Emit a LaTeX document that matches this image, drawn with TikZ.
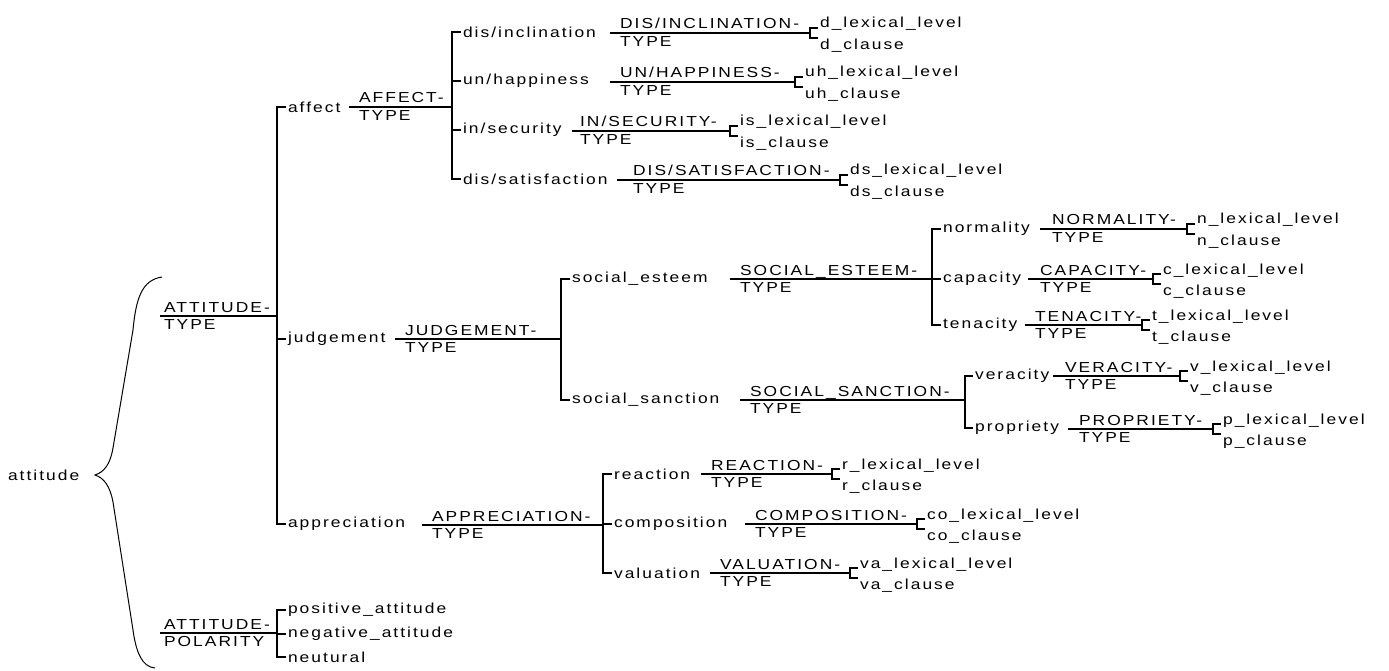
\documentclass[tikz,border=0pt]{standalone}
\usepackage{fontspec}
\setmainfont{Liberation Sans}[LetterSpace=14,FakeStretch=1.2]
\usetikzlibrary{positioning}

\begin{document}
\begin{tikzpicture}
    [x=1pt,y=-1pt,line width=1.1pt,
     every node/.style={inner xsep=1.5pt,inner ysep=0pt,font=\fontsize{14.5}{17}\selectfont},
     feat/.style={anchor=west},
     sysup/.style={anchor=base west},
     syslo/.style={anchor=north west},
     leafup/.style={anchor=base west},
     leaflo/.style={anchor=north west}]
  \useasboundingbox (0,0) rectangle (1389,671);

  % root and its brace
  \node[feat] (root) at (6,475) {attitude};
  \coordinate (brT) at (162,277);
  \coordinate (brM) at (95,475);
  \coordinate (brB) at (155,668);
  \draw[line width=1pt] (brT) .. controls (142,280) and (136,298) .. (133,330)
    -- (113,448) .. controls (110,465) and (104,472) .. (brM)
    .. controls (104,478) and (110,486) .. (113,502)
    -- (133,630) .. controls (136,652) and (142,667) .. (brB);

  % top systems
  \coordinate (att-l) at (160,316); \coordinate (att-b) at (277,316);
  \coordinate (pol-l) at (160,633); \coordinate (pol-b) at (277,633);
  \node[feat] (aff) at (286,107) {affect};
  \node[feat] (jud) at (286,339) {judgement};
  \node[feat] (app) at (286,524) {appreciation};
  \node[feat] (pos) at (286,610) {positive\_attitude};
  \node[feat] (neg) at (286,634) {negative\_attitude};
  \node[feat] (neu) at (286,657) {neutural};

  % second level
  \coordinate (aff-l) at (349,107); \coordinate (aff-b) at (452,107);
  \coordinate (jud-l) at (395,339); \coordinate (jud-b) at (561,339);
  \coordinate (app-l) at (422,525); \coordinate (app-b) at (603,525);
  \node[feat] (dis) at (461,32) {dis/inclination};
  \node[feat] (unh) at (461,81) {un/happiness};
  \node[feat] (ins) at (461,130) {in/security};
  \node[feat] (sat) at (461,179) {dis/satisfaction};
  \node[feat] (se) at (570,279) {social\_esteem};
  \node[feat] (ss) at (570,400) {social\_sanction};
  \node[feat] (rea) at (612,474) {reaction};
  \node[feat] (com) at (612,524) {composition};
  \node[feat] (val) at (612,573) {valuation};

  % third level
  \coordinate (se-l) at (730,279); \coordinate (se-b) at (932,279);
  \coordinate (ss-l) at (740,400); \coordinate (ss-b) at (965,400);
  \node[feat] (nor) at (941,229) {normality};
  \node[feat] (cap) at (941,279) {capacity};
  \node[feat] (ten) at (941,325) {tenacity};
  \node[feat] (ver) at (973,376) {veracity};
  \node[feat] (pro) at (973,428) {propriety};

  % systems ending in lexical level / clause
  \foreach \s/\xl/\xb/\yl/\p in {dis/610/810/33/d, unh/610/795/82/uh, ins/572/730/131/is,
      sat/617/840/180/ds, nor/1040/1187/229/n, cap/1028/1153/279/c, ten/1025/1142/325/t,
      ver/1053/1180/376/v, pro/1068/1213/429/p, rea/701/832/474/r, com/745/917/524/co,
      val/710/850/573/va} {
    \coordinate (\s-l) at (\xl,\yl);
    \coordinate (\s-b) at (\xb,\yl);
    \node[leafup] (\s-1) at (\xb+8,\yl-5) {\p\_lexical\_level};
    \node[leaflo] (\s-2) at (\xb+8,\yl+5) {\p\_clause};
    \draw (\s-1.base west) -| (\s-b) |- (\s-2.north west);
  }

  % system names
  \node[sysup] (att-u) at ([xshift=2pt,yshift=4pt]att-l) {ATTITUDE-};
  \node[syslo] (att-t) at ([xshift=2pt,yshift=-3pt]att-l) {TYPE};
  \node[sysup] (pol-u) at ([xshift=2pt,yshift=4pt]pol-l) {ATTITUDE-};
  \node[syslo] (pol-t) at ([xshift=2pt,yshift=-3pt]pol-l) {POLARITY};
  \node[sysup] (aff-u) at ([xshift=8pt,yshift=4pt]aff-l) {AFFECT-};
  \node[syslo] (aff-t) at ([xshift=8pt,yshift=-3pt]aff-l) {TYPE};
  \node[sysup] (jud-u) at ([xshift=8pt,yshift=4pt]jud-l) {JUDGEMENT-};
  \node[syslo] (jud-t) at ([xshift=8pt,yshift=-3pt]jud-l) {TYPE};
  \node[sysup] (app-u) at ([xshift=8pt,yshift=4pt]app-l) {APPRECIATION-};
  \node[syslo] (app-t) at ([xshift=8pt,yshift=-3pt]app-l) {TYPE};
  \node[sysup] (se-u) at ([xshift=8pt,yshift=4pt]se-l) {SOCIAL\_ESTEEM-};
  \node[syslo] (se-t) at ([xshift=8pt,yshift=-3pt]se-l) {TYPE};
  \node[sysup] (ss-u) at ([xshift=8pt,yshift=4pt]ss-l) {SOCIAL\_SANCTION-};
  \node[syslo] (ss-t) at ([xshift=8pt,yshift=-3pt]ss-l) {TYPE};
  \node[sysup] (dis-u) at ([xshift=8pt,yshift=4pt]dis-l) {DIS/INCLINATION-};
  \node[syslo] (dis-t) at ([xshift=8pt,yshift=-3pt]dis-l) {TYPE};
  \node[sysup] (unh-u) at ([xshift=8pt,yshift=4pt]unh-l) {UN/HAPPINESS-};
  \node[syslo] (unh-t) at ([xshift=8pt,yshift=-3pt]unh-l) {TYPE};
  \node[sysup] (ins-u) at ([xshift=6pt,yshift=4pt]ins-l) {IN/SECURITY-};
  \node[syslo] (ins-t) at ([xshift=6pt,yshift=-3pt]ins-l) {TYPE};
  \node[sysup] (sat-u) at ([xshift=14pt,yshift=4pt]sat-l) {DIS/SATISFACTION-};
  \node[syslo] (sat-t) at ([xshift=14pt,yshift=-3pt]sat-l) {TYPE};
  \node[sysup] (nor-u) at ([xshift=10pt,yshift=4pt]nor-l) {NORMALITY-};
  \node[syslo] (nor-t) at ([xshift=10pt,yshift=-3pt]nor-l) {TYPE};
  \node[sysup] (cap-u) at ([xshift=10pt,yshift=4pt]cap-l) {CAPACITY-};
  \node[syslo] (cap-t) at ([xshift=10pt,yshift=-3pt]cap-l) {TYPE};
  \node[sysup] (ten-u) at ([xshift=8pt,yshift=4pt]ten-l) {TENACITY-};
  \node[syslo] (ten-t) at ([xshift=8pt,yshift=-3pt]ten-l) {TYPE};
  \node[sysup] (ver-u) at ([xshift=10pt,yshift=4pt]ver-l) {VERACITY-};
  \node[syslo] (ver-t) at ([xshift=10pt,yshift=-3pt]ver-l) {TYPE};
  \node[sysup] (pro-u) at ([xshift=9pt,yshift=4pt]pro-l) {PROPRIETY-};
  \node[syslo] (pro-t) at ([xshift=9pt,yshift=-3pt]pro-l) {TYPE};
  \node[sysup] (rea-u) at ([xshift=8pt,yshift=4pt]rea-l) {REACTION-};
  \node[syslo] (rea-t) at ([xshift=8pt,yshift=-3pt]rea-l) {TYPE};
  \node[sysup] (com-u) at ([xshift=8pt,yshift=4pt]com-l) {COMPOSITION-};
  \node[syslo] (com-t) at ([xshift=8pt,yshift=-3pt]com-l) {TYPE};
  \node[sysup] (val-u) at ([xshift=8pt,yshift=4pt]val-l) {VALUATION-};
  \node[syslo] (val-t) at ([xshift=8pt,yshift=-3pt]val-l) {TYPE};

  % system lines and brackets
  \foreach \s in {att,pol,aff,jud,app,se,ss,dis,unh,ins,sat,nor,cap,ten,ver,pro,rea,com,val}
    \draw (\s-l) -- (\s-b);
  \foreach \b/\first/\last in {att/aff/app, pol/pos/neu, aff/dis/sat, jud/se/ss,
      app/rea/val, se/nor/ten, ss/ver/pro}
    \draw (\first.west) -| (\b-b) |- (\last.west);
  \foreach \b/\mid in {att/jud, pol/neg, aff/unh, aff/ins, app/com, se/cap}
    \draw (\mid.west) -- (\mid.west -| \b-b);
\end{tikzpicture}
\end{document}
